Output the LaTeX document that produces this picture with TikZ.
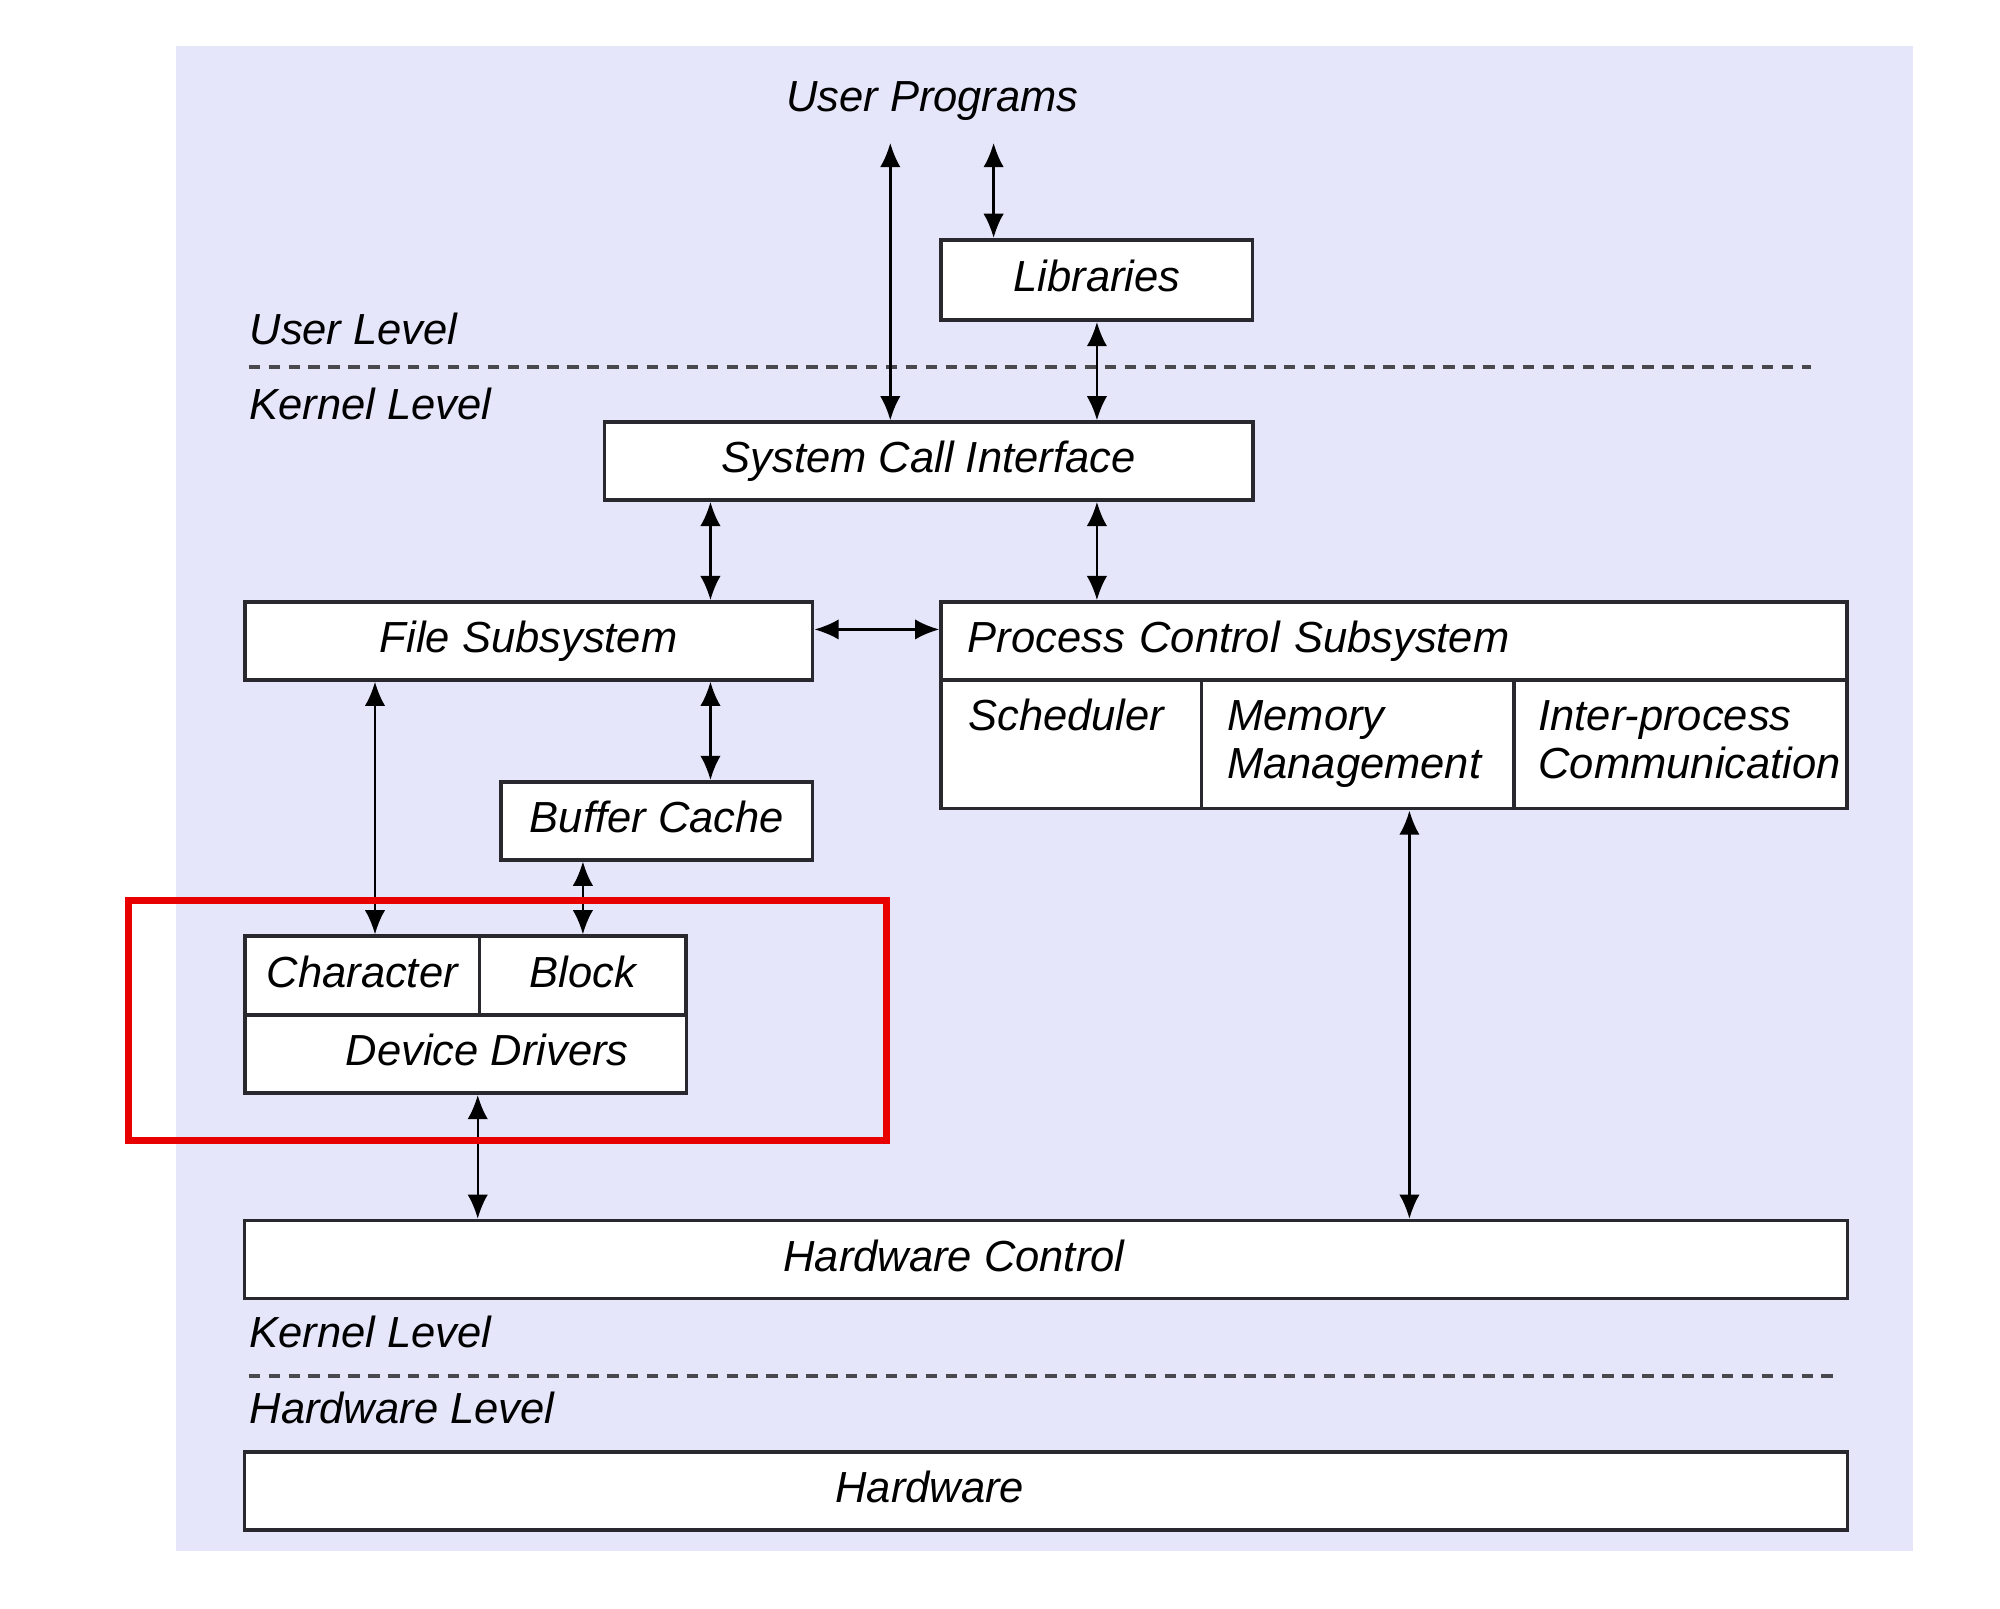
\documentclass[tikz,border=0pt]{standalone}
\usepackage{fontspec}
\setmainfont{Liberation Sans}
\usetikzlibrary{arrows.meta,calc}
\definecolor{bgc}{RGB}{230,230,250}
\definecolor{ln}{RGB}{40,40,46}
\definecolor{hl}{RGB}{232,0,0}
\newcommand{\dfont}{\fontsize{9.7pt}{10.7pt}\selectfont\itshape}
\tikzset{
  bt/.style={inner sep=0pt,font=\dfont,text height=0.72em,text depth=0.2em},
  b/.style={bt,rectangle,draw=ln,line width=0.8pt,fill=white},
  t/.style={inner sep=0pt,font=\dfont,align=left,text width=2.5cm,anchor=base west},
  lvl/.style={inner sep=0pt,font=\dfont,anchor=west},
  dl/.style={draw=ln!85,line width=0.9pt,dash pattern=on 0.09cm off 0.066cm},
  arr/.style={<->,>={Latex[length=0.19cm,width=0.16cm]},line width=0.55pt},
}

\begin{document}
\begin{tikzpicture}[x=0.01cm,y=-0.01cm]
  \useasboundingbox (0,0) rectangle (1568,1261);
  \fill[bgc] (138,36) rectangle (1500,1216);
  % level separators
  \node[lvl] (ul) at (195,258) {User Level};
  \node[lvl] (kl) at (195,317) {Kernel Level};
  \draw[dl] (195,288) -- (1420,288);
  \node[lvl] (kl2) at (195,1044) {Kernel Level};
  \node[lvl] (hwl) at (195,1104) {Hardware Level};
  \draw[dl] (195,1079) -- (1440,1079);
  % blocks
  \node[bt] (up) at (731,78) {User Programs};
  \node[b,minimum width=2.44cm,minimum height=0.63cm] (lib) at (860,219.5) {Libraries};
  \node[b,minimum width=5.08cm,minimum height=0.61cm] (sci) at (728,361.5) {System Call Interface};
  \node[b,minimum width=4.45cm,minimum height=0.61cm] (fs) at (414.5,502.5) {File Subsystem};
  \node[b,minimum width=7.10cm,minimum height=0.61cm,text width=6.68cm,inner xsep=0.21cm,align=left] (pcs) at (1093,502.5) {Process Control Subsystem};
  \node[b,minimum width=2.04cm,minimum height=1.01cm] (sch) at (840,583.5) {};
  \node[b,minimum width=2.45cm,minimum height=1.01cm] (mem) at (1064.5,583.5) {};
  \node[b,minimum width=2.61cm,minimum height=1.01cm] (ipc) at (1317.5,583.5) {};
  \node[t] (schT) at ($(sch.north west)+(22,41)$) {Scheduler};
  \node[t] (memT) at ($(mem.north west)+(21,41)$) {Memory\\Management};
  \node[t] (ipcT) at ($(ipc.north west)+(20,41)$) {Inter-process\\Communication};
  \node[b,minimum width=2.44cm,minimum height=0.61cm] (buf) at (515,643.5) {Buffer Cache};
  \node[b,minimum width=1.84cm,minimum height=0.62cm] (chr) at (284,765) {Character};
  \node[b,minimum width=1.62cm,minimum height=0.62cm] (blk) at (457,765) {Block};
  \node[b,minimum width=3.46cm,minimum height=0.61cm] (dd) at (365,826.5) {};
  \node[bt] (ddT) at ([xshift=0.17cm]dd.center) {Device Drivers};
  \node[b,minimum width=12.56cm,minimum height=0.61cm] (hwc) at (820,987.5) {};
  \node[bt] (hwcT) at ([xshift=-0.72cm]hwc.center) {Hardware Control};
  \node[b,minimum width=12.56cm,minimum height=0.61cm] (hw) at (820,1169) {};
  \node[bt] (hwT) at ([xshift=-0.91cm]hw.center) {Hardware};
  % arrow lanes
  \coordinate (u1) at (698,112);
  \coordinate (u2) at (779,112);
  \coordinate (l1) at (557,0);
  \coordinate (l2) at (294,0);
  \coordinate (l3) at (1105,0);
  % connectors
  \draw[arr] (u1) -- (u1 |- sci.north);
  \draw[arr] (u2) -- (u2 |- lib.north);
  \draw[arr] (lib.south) -- (lib.south |- sci.north);
  \draw[arr] (sci.south -| l1) -- (l1 |- fs.north);
  \draw[arr] (sci.south -| lib) -- (lib |- pcs.north);
  \draw[arr] ([yshift=0.09cm]fs.east) -- ([yshift=0.09cm]pcs.west);
  \draw[arr] (fs.south -| l1) -- (l1 |- buf.north);
  \draw[arr] (fs.south -| l2) -- (l2 |- chr.north);
  \draw[arr] (buf.south -| blk) -- (blk.north);
  \draw[arr] (dd.south -| blk.west) -- (blk.west |- hwc.north);
  \draw[arr] (mem.south -| l3) -- (l3 |- hwc.north);
  % highlight
  \draw[hl,line width=1.56pt] (101,706) rectangle (695,894);
\end{tikzpicture}
\end{document}
